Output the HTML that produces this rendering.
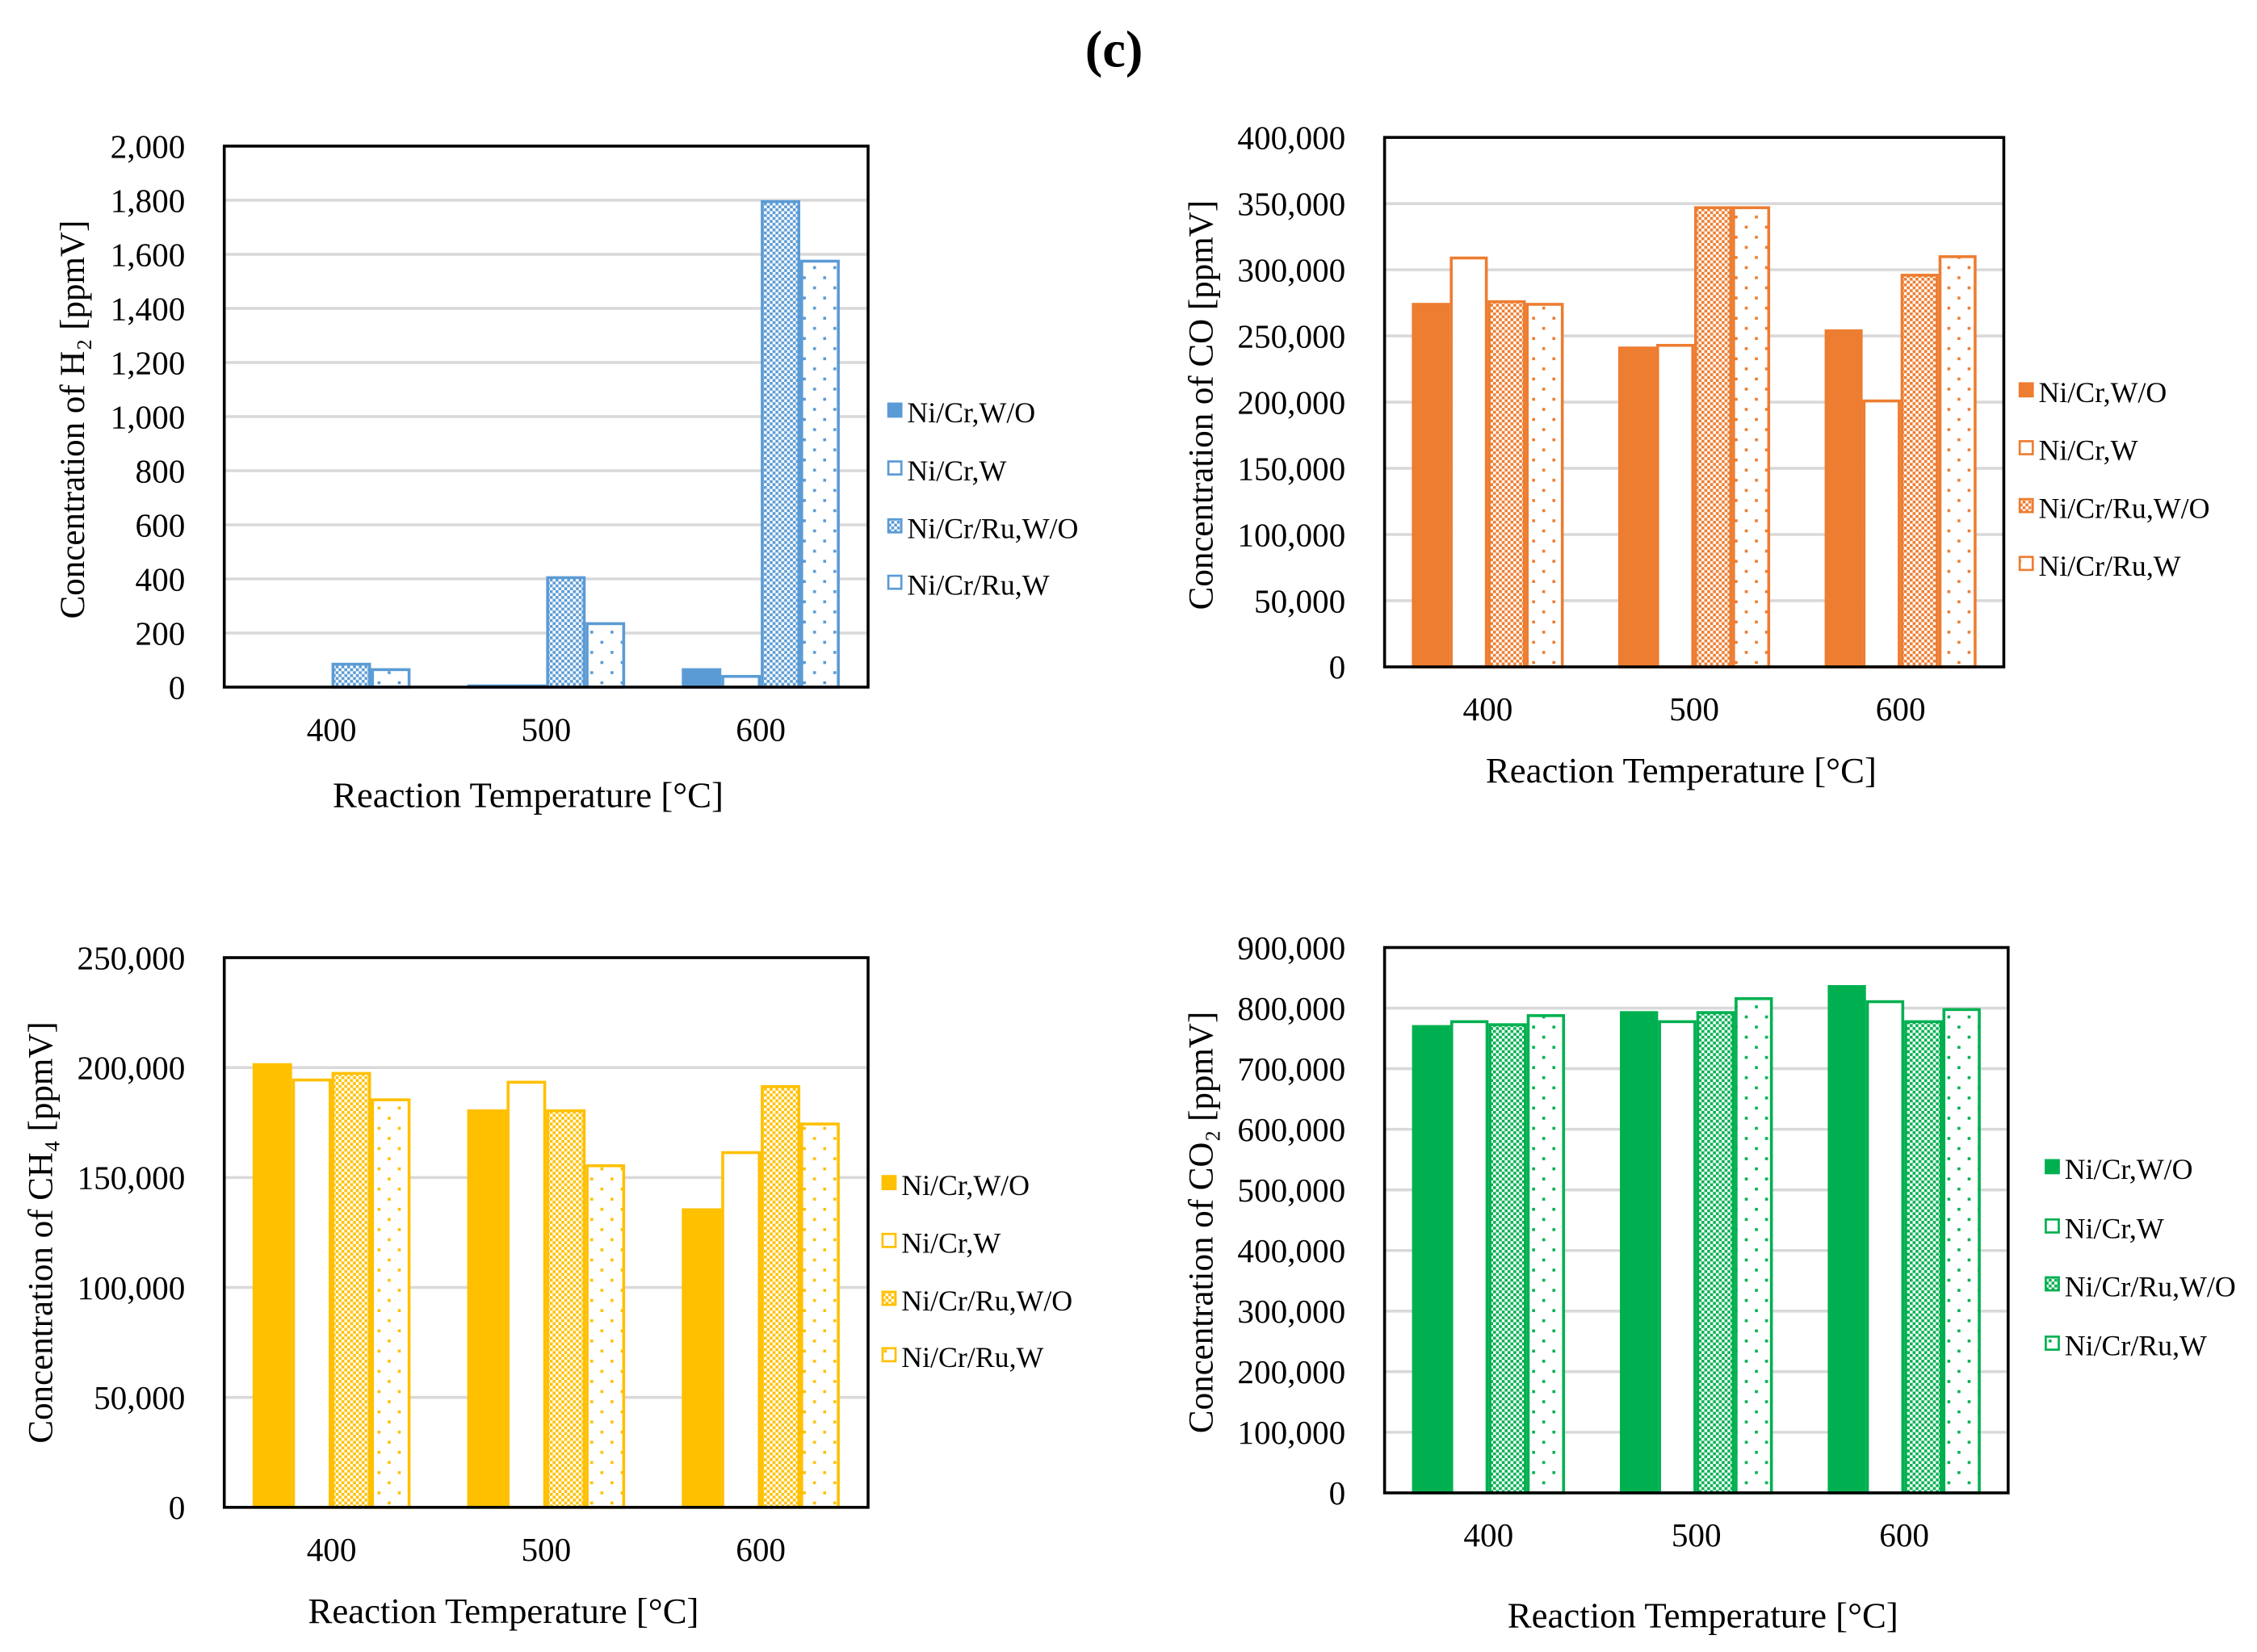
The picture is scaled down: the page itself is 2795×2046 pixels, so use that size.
<!DOCTYPE html>
<html><head><meta charset="utf-8">
<style>
html,body{margin:0;padding:0;background:#fff;}
svg{display:block;font-family:"Liberation Serif",serif;}
</style></head>
<body>
<svg id="fig" width="2795" height="2046" viewBox="0 0 1560 1142" preserveAspectRatio="none" xmlns="http://www.w3.org/2000/svg">
<defs id="defs"></defs>
<text x="770" y="46" text-anchor="middle" font-size="36" font-weight="bold">(c)</text>
</svg>
<script>
const categories = ["400","500","600"];
const seriesNames = ["Ni/Cr,W/O","Ni/Cr,W","Ni/Cr/Ru,W/O","Ni/Cr/Ru,W"];
const h2Values = [[0,10,70],[0,10,45],[90,410,1800],[70,240,1580]];
const coValues = [[275000,242000,255000],[310000,244000,202000],[277000,348000,297000],[275000,348000,311000]];
const ch4Values = [[202000,181000,136000],[195000,194000,162000],[198000,181000,192000],[186000,156000,175000]];
const co2Values = [[772000,795000,838000],[780000,780000,813000],[775000,795000,780000],[790000,818000,800000]];
const h2Ticks = [0,200,400,600,800,1000,1200,1400,1600,1800,2000];
const coTicks = [0,50000,100000,150000,200000,250000,300000,350000,400000];
const ch4Ticks = [0,50000,100000,150000,200000,250000];
const co2Ticks = [0,100000,200000,300000,400000,500000,600000,700000,800000,900000];

const NS="http://www.w3.org/2000/svg";
const svg=document.getElementById('fig');
const defs=document.getElementById('defs');
function mk(tag,attrs,parent){const e=document.createElementNS(NS,tag);for(const k in attrs)e.setAttribute(k,attrs[k]);(parent||svg).appendChild(e);return e;}
function fmt(v){return v.toLocaleString('en-US');}

function patterns(id,color){
  const p1=mk('pattern',{id:id+'-check',width:4,height:4,patternUnits:'userSpaceOnUse'},defs);
  mk('rect',{x:0,y:0,width:4,height:4,fill:'#fff'},p1);
  mk('rect',{x:0,y:0,width:2,height:2,fill:color},p1);
  mk('rect',{x:2,y:2,width:2,height:2,fill:color},p1);
  const p2=mk('pattern',{id:id+'-dot',width:14,height:14,patternUnits:'userSpaceOnUse'},defs);
  mk('rect',{x:0,y:0,width:14,height:14,fill:'#fff'},p2);
  mk('rect',{x:2,y:2,width:2,height:2,fill:color},p2);
  mk('rect',{x:9,y:9,width:2,height:2,fill:color},p2);
}

function chart(o){
  const g=mk('g',{});
  
  
  patterns(o.id,o.color);
  const max=o.ticks[o.ticks.length-1];
  const yS=v=>o.y1-(v/max)*(o.y1-o.y0);
  const cw=(o.x1-o.x0)/categories.length;
  const bw=cw*0.184;
  // gridlines
  o.ticks.forEach(t=>{
    if(t>0){const l=mk('line',{x1:o.x0,x2:o.x1,y1:yS(t),y2:yS(t),stroke:'#d9d9d9','stroke-width':2},g);
    
    }
    const tx=mk('text',{x:o.x0-27,y:yS(t)+8,'text-anchor':'end','font-size':23},g);
    
    
    tx.textContent=fmt(t);
  });
  // bars
  const fills=[o.color,'#fff','url(#'+o.id+'-check)','url(#'+o.id+'-dot)'];
  o.values.forEach((ser,si)=>{
    ser.forEach((v,ci)=>{
      const cx=o.x0+cw*(ci+0.5);
      const x=cx-2*bw+si*bw;
      const r=mk('rect',{x:x+1,y:yS(v)+1,width:bw-2,height:Math.max(0,yS(0)-yS(v)-1),fill:fills[si],stroke:o.color,'stroke-width':2},g);
      
      
    });
  });
  // frame
  const f=mk('rect',{x:o.x0,y:o.y0,width:o.x1-o.x0,height:o.y1-o.y0,fill:'none',stroke:'#000','stroke-width':2},g);
  
  
  categories.forEach((c,ci)=>{
    const t=mk('text',{x:o.x0+cw*(ci+0.5),y:o.y1+37,'text-anchor':'middle','font-size':23},g);
    
    
    t.textContent=c;
  });
  const xt=mk('text',{x:o.xtx,y:o.xty,'text-anchor':'middle','font-size':25},g);
  
  
  xt.textContent='Reaction Temperature [°C]';
  const yt=mk('text',{x:0,y:0,'text-anchor':'middle','font-size':24,transform:'translate('+o.ytx+','+o.yty+') rotate(-90)'},g);
  
  
  yt.textContent=o.ytitle;
  seriesNames.forEach((n,si)=>{
    const ly=o.legY[si];
    const sw=mk('rect',{x:o.legX+1,y:ly-6,width:9,height:9,fill:fills[si],stroke:o.color,'stroke-width':1.5},g);
    
    
    const lt=mk('text',{x:o.legX+14,y:ly+7,'font-size':20},g);
    
    
    lt.textContent=n;
  });
}

chart({id:'h2',color:'#5b9bd5',values:h2Values,ticks:h2Ticks,x0:155,x1:600,y0:101,y1:475,xtx:365,xty:558,ytx:58,yty:290,ytitle:'Concentration of H₂ [ppmV]',legX:613,legY:[285,325,365,404]});
chart({id:'co',color:'#ed7d31',values:coValues,ticks:coTicks,x0:957,x1:1385,y0:95,y1:461,xtx:1162,xty:541,ytx:838,yty:280,ytitle:'Concentration of CO  [ppmV]',legX:1395,legY:[271,311,351,391]});
chart({id:'ch4',color:'#ffc000',values:ch4Values,ticks:ch4Ticks,x0:155,x1:600,y0:662,y1:1042,xtx:348,xty:1122,ytx:36,yty:852,ytitle:'Concentration of CH₄  [ppmV]',legX:609,legY:[819,859,899,938]});
chart({id:'co2',color:'#00b050',values:co2Values,ticks:co2Ticks,x0:957,x1:1388,y0:655,y1:1032,xtx:1177,xty:1125,ytx:838,yty:845,ytitle:'Concentration of  CO₂ [ppmV]',legX:1413,legY:[808,849,889,930]});
</script>
</body></html>
